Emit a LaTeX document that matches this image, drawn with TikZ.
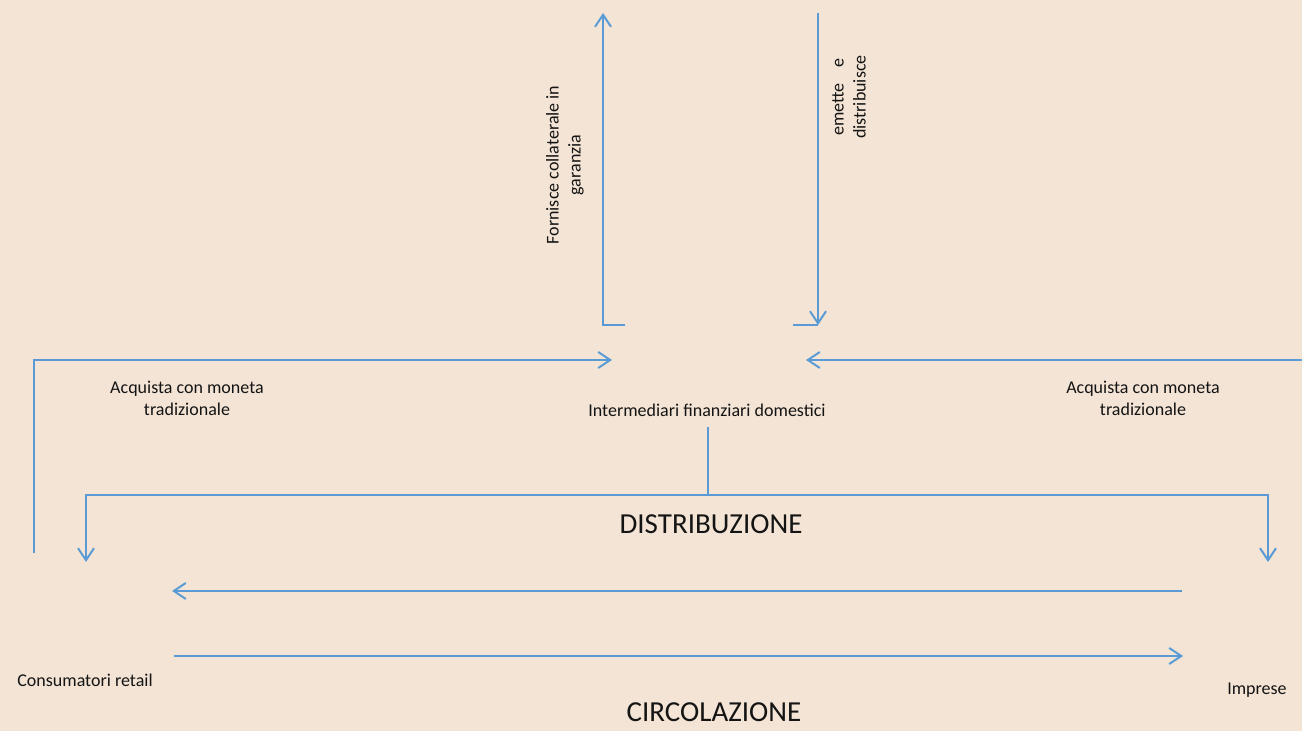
\documentclass[tikz,border=0pt]{standalone}
\usepackage{fontspec}
\setmainfont{Carlito}
\usetikzlibrary{arrows.meta}
\definecolor{bgc}{RGB}{243,228,213}
\definecolor{linec}{RGB}{91,155,213}
\definecolor{txt}{RGB}{20,20,20}
\tikzset{
  conn/.style={draw=linec, line width=1pt},
  arr/.style={conn, -{Straight Barb[length=6pt,width=8pt,line width=1pt]}},
  lbl/.style={text=txt, font=\fontsize{9}{11}\selectfont, align=center, inner sep=0pt},
  big/.style={text=txt, font=\fontsize{14.5}{16}\selectfont, inner sep=0pt}
}
\begin{document}
\begin{tikzpicture}[x=0.5pt,y=-0.5pt]
\fill[bgc] (0,0) rectangle (1302,731);
\useasboundingbox (0,0) rectangle (1302,731);

% text nodes
\node[lbl] (forn) at (565,165) [rotate=90] {Fornisce collaterale in\\garanzia};
\node[lbl] (emet) at (849,97) [rotate=90] {emette\ \ \ \ e\\distribuisce};
\node[lbl] (acqL) at (187,398) {Acquista con moneta\\tradizionale};
\node[lbl] (acqR) at (1143,398) {Acquista con moneta\\tradizionale};
\node[lbl] (inter) at (707,410) {Intermediari finanziari domestici};
\node[big] (distr) at (711,524) {DISTRIBUZIONE};
\node[lbl] (cons) at (85,680) {Consumatori retail};
\node[lbl] (impr) at (1257,690) {Imprese};
\node[big, anchor=base, text depth=0pt] (circ) at (714,722) {CIRCOLAZIONE};

% coordinates
\coordinate (upB) at (603,325);
\coordinate (upT) at (603,13);
\coordinate (upS) at (625,325);
\coordinate (dnT) at (818,13);
\coordinate (dnB) at (818,325);
\coordinate (dnS) at (793,325);
\coordinate (lA) at (34,553);
\coordinate (lB) at (34,360);
\coordinate (lC) at (612,360);
\coordinate (rA) at (1302,360);
\coordinate (rB) at (806,360);
\coordinate (iB) at (708,427);
\coordinate (iJ) at (708,495);
\coordinate (dL0) at (86,495);
\coordinate (dL) at (86,562);
\coordinate (dR0) at (1268,495);
\coordinate (dR) at (1268,562);
\coordinate (c1a) at (1182,591);
\coordinate (c1b) at (172,591);
\coordinate (c2a) at (174,656);
\coordinate (c2b) at (1183,656);

% connectors
\draw[arr] (upS) -- (upB) -- (upT);
\draw[conn] (dnS) -- (dnB);
\draw[arr] (dnT) -- (dnB);
\draw[arr] (lA) -- (lB) -- (lC);
\draw[arr] (rA) -- (rB);
\draw[conn] (iB) -- (iJ);
\draw[arr] (iJ) -- (dL0) -- (dL);
\draw[arr] (iJ) -- (dR0) -- (dR);
\draw[arr] (c1a) -- (c1b);
\draw[arr] (c2a) -- (c2b);
\end{tikzpicture}
\end{document}
